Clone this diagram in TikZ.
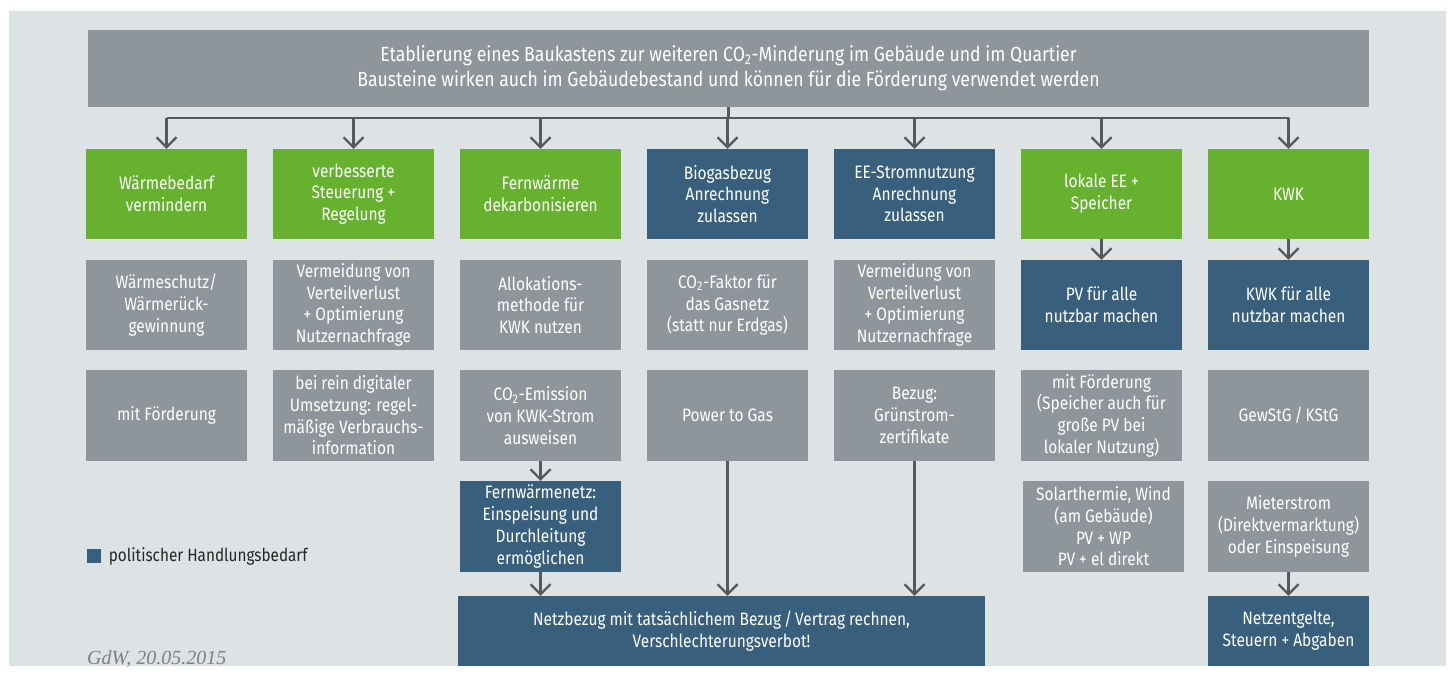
\documentclass[tikz,border=0pt]{standalone}
\usepackage{fontspec}
\setmainfont[FakeStretch=0.86]{Fira Sans}
\newfontfamily\datefont{Liberation Serif}
\usetikzlibrary{arrows.meta,positioning}

\definecolor{bg}{RGB}{221,226,229}
\definecolor{gdwgreen}{RGB}{102,178,46}
\definecolor{gdwblue}{RGB}{56,96,125}
\definecolor{gdwgrey}{RGB}{142,150,155}
\definecolor{linegrey}{RGB}{85,90,95}

\tikzset{
	box/.style={minimum width=161pt, minimum height=90pt, inner sep=0pt, align=center,
		text=white, font=\fontsize{18}{21.7}\selectfont},
	gruen/.style={box, fill=gdwgreen},
	blau/.style={box, fill=gdwblue},
	grau/.style={box, fill=gdwgrey},
	line/.style={draw=linegrey, line width=2.2pt},
	arr/.style={line, -{Straight Barb[length=10pt,width=20pt]}},
}

\begin{document}
\begin{tikzpicture}[x=1pt, y=-1pt]
		\useasboundingbox (0,0) rectangle (1453,675);
		\fill[bg] (9,11) rectangle (1446,666);
		% Kopf
		\node[grau, minimum width=1281pt, minimum height=77pt, font=\fontsize{20.5}{25}\selectfont] (top) at (728.5,68.5)
			{Etablierung eines Baukastens zur weiteren CO\textsubscript{2}-Minderung im Gebäude und im Quartier\\
			Bausteine wirken auch im Gebäudebestand und können für die Förderung verwendet werden};
		% Zeile 1
		\node[gruen] (waerme) at (166.5,194) {Wärmebedarf\\vermindern};
		\node[gruen] (steuer) at (353.5,194) {verbesserte\\Steuerung +\\Regelung};
		\node[gruen] (fernw) at (540.5,194) {Fernwärme\\dekarbonisieren};
		\node[blau] (biogas) at (727.5,194) {Biogasbezug\\Anrechnung\\zulassen};
		\node[blau] (eestrom) at (914.5,194) {EE-Stromnutzung\\Anrechnung\\zulassen};
		\node[gruen] (lokal) at (1101.5,194) {lokale EE +\\Speicher};
		\node[gruen] (kwk) at (1288.5,194) {KWK};
		% Zeile 2
		\node[grau] (schutz) at (166.5,305) {Wärmeschutz/\\Wärmerück-\\gewinnung};
		\node[grau] (verlust) at (353.5,305) {Vermeidung von\\Verteilverlust\\+ Optimierung\\Nutzernachfrage};
		\node[grau] (alloc) at (540.5,305) {Allokations-\\methode für\\KWK nutzen};
		\node[grau] (faktor) at (727.5,305) {CO\textsubscript{2}-Faktor für\\das Gasnetz\\(statt nur Erdgas)};
		\node[grau] (verlustb) at (914.5,305) {Vermeidung von\\Verteilverlust\\+ Optimierung\\Nutzernachfrage};
		\node[blau] (pvalle) at (1101.5,305) {PV für alle\\nutzbar machen};
		\node[blau] (kwkalle) at (1288.5,305) {KWK für alle\\nutzbar machen};
		% Zeile 3
		\node[grau, minimum height=91pt] (foerd) at (166.5,415.5) {mit Förderung};
		\node[grau, minimum height=91pt] (digital) at (353.5,415.5) {bei rein digitaler\\Umsetzung: regel-\\mäßige Verbrauchs-\\information};
		\node[grau, minimum height=91pt] (emission) at (540.5,415.5) {CO\textsubscript{2}-Emission\\von KWK-Strom\\ausweisen};
		\node[grau, minimum height=91pt] (ptg) at (727.5,415.5) {Power to Gas};
		\node[grau, minimum height=91pt] (zertif) at (914.5,415.5) {Bezug:\\Grünstrom-\\zertifikate};
		\node[grau, minimum height=91pt] (foerdpv) at (1101.5,415.5) {mit Förderung\\(Speicher auch für\\große PV bei\\lokaler Nutzung)};
		\node[grau, minimum height=91pt] (steuergesetz) at (1288.5,415.5) {GewStG\,/\,KStG};
		% Zeile 4
		\node[blau, minimum height=91pt] (fwnetz) at (540.5,526.5) {Fernwärmenetz:\\Einspeisung und\\Durchleitung\\ermöglichen};
		\node[grau, minimum height=91pt] (solar) at (1103.5,526.5) {Solarthermie, Wind\\(am Gebäude)\\PV + WP\\PV + el direkt};
		\node[grau, minimum height=91pt] (mieter) at (1288.5,526.5) {Mieterstrom\\(Direktvermarktung)\\oder Einspeisung};
		% Zeile 5
		\node[blau, minimum width=527pt, minimum height=70pt] (netzbezug) at (721.5,631)
			{Netzbezug mit tatsächlichem Bezug\,/\,Vertrag rechnen,\\Verschlechterungsverbot!};
		\node[blau, minimum height=70pt] (netzentg) at (1288.5,631) {Netzentgelte,\\Steuern + Abgaben};
		% Verbindungen
		\coordinate (bus) at (728.5,118);
		\draw[line] (top.south) -- (bus);
		\draw[line] (waerme.north |- bus) -- (kwk.north |- bus);
		\foreach \n in {waerme, steuer, fernw, biogas, eestrom, lokal, kwk} {
			\draw[arr] (\n.north |- bus) -- (\n.north);
		};
		\draw[arr] (lokal) -- (pvalle);
		\draw[arr] (kwk) -- (kwkalle);
		\draw[arr] (emission) -- (fwnetz);
		\draw[arr] (fwnetz.south) -- (fwnetz.south |- netzbezug.north);
		\draw[arr] (ptg.south) -- (ptg.south |- netzbezug.north);
		\draw[arr] (zertif.south) -- (zertif.south |- netzbezug.north);
		\draw[arr] (mieter) -- (netzentg);
		% Legende
		\node[fill=gdwblue, minimum size=14pt, inner sep=0pt] (legsq) at (93.5,556) {};
		\node[right=8pt of legsq, inner sep=0pt, text=black!85, font=\fontsize{17.8}{20}\selectfont] (legtxt) {politischer Handlungsbedarf};
		\node[anchor=base west, inner sep=0pt, text=gray, font=\datefont\itshape\fontsize{20}{20}\selectfont] (datum) at (87,664) {GdW, 20.05.2015};
\end{tikzpicture}
\end{document}
